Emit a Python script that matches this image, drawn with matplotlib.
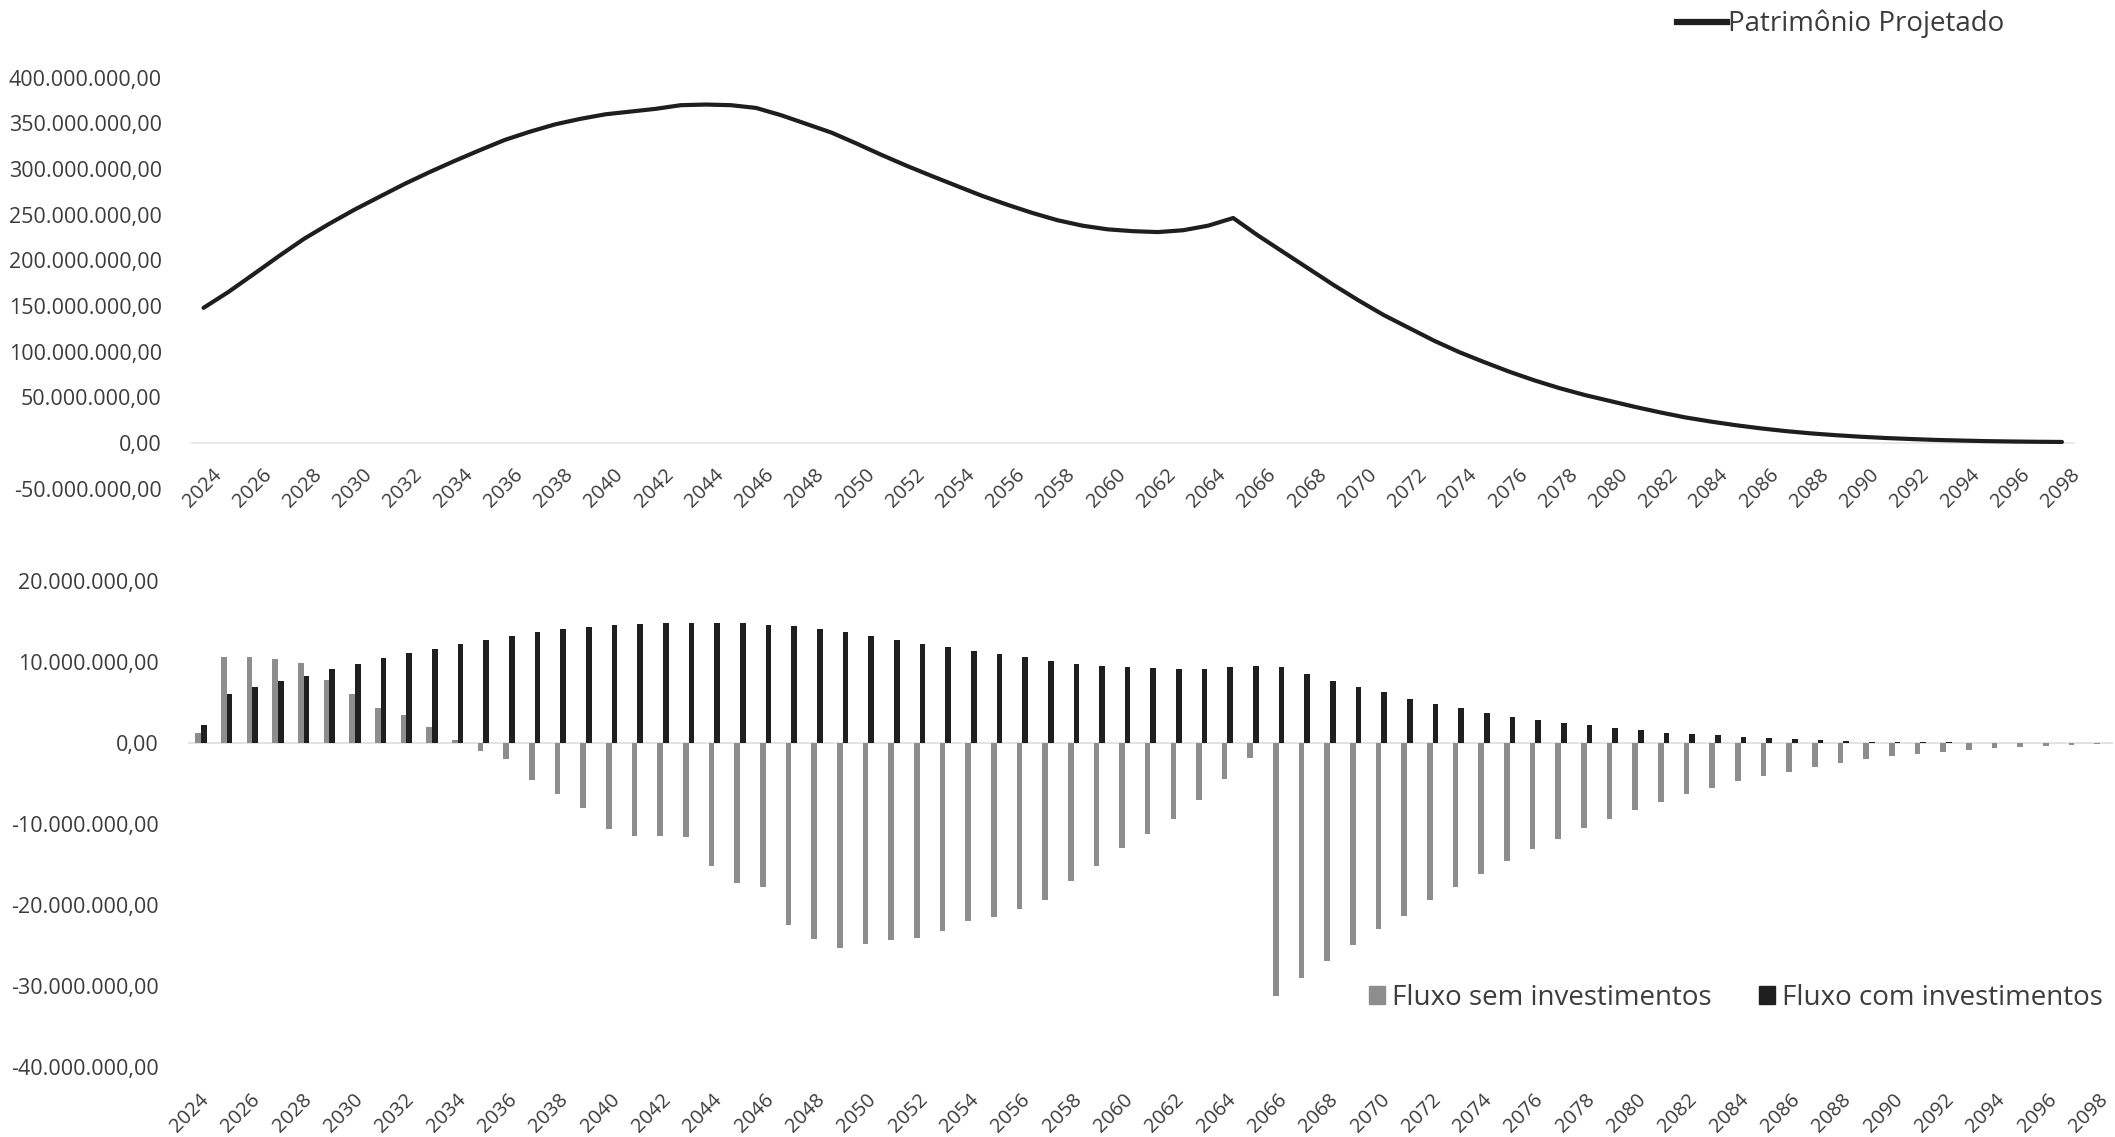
import matplotlib
matplotlib.use("Agg")
import matplotlib.pyplot as plt
import matplotlib.transforms as mtransforms
from matplotlib.lines import Line2D
from matplotlib.patches import Patch
from matplotlib.ticker import FuncFormatter
import numpy as np

plt.rcParams['font.family'] = ['Open Sans', 'DejaVu Sans']

# --- Dados (valores em milhões de R$) ---
anos = list(range(2024, 2099))

patrimonio = [
    148.0, 165.6, 185.0, 204.7, 223.6, 240.0, 255.4, 269.6, 283.7, 296.7,
    309.0, 320.7, 332.0, 341.0, 349.0, 355.0, 360.0, 363.0, 366.0, 370.0,
    370.7, 370.0, 367.0, 359.0, 349.5, 340.0, 328.0, 315.5, 303.6, 292.4,
    281.5, 270.7, 261.0, 252.0, 244.0, 238.0, 234.0, 232.0, 231.0, 233.0,
    238.0, 246.4, 227.0, 209.0, 191.0, 173.0, 156.0, 140.0, 126.0, 112.0,
    99.5, 88.5, 78.0, 68.5, 60.0, 52.5, 46.0, 39.5, 33.5, 28.0,
    23.5, 19.5, 16.0, 13.0, 10.5, 8.5, 6.8, 5.4, 4.3, 3.3,
    2.6, 2.0, 1.6, 1.3, 1.1,
]

fluxo_sem = [
    1.3, 10.7, 10.7, 10.4, 9.9, 7.8, 6.1, 4.4, 3.5, 2.0,
    0.4, -0.9, -1.9, -4.5, -6.3, -8.0, -10.6, -11.4, -11.5, -11.6,
    -15.2, -17.3, -17.7, -22.5, -24.2, -25.3, -24.8, -24.3, -24.0, -23.2,
    -21.9, -21.5, -20.5, -19.4, -17.0, -15.2, -13.0, -11.2, -9.4, -7.0,
    -4.4, -1.8, -31.2, -29.0, -26.9, -24.9, -22.9, -21.3, -19.4, -17.8,
    -16.1, -14.5, -13.1, -11.8, -10.5, -9.3, -8.3, -7.3, -6.3, -5.5,
    -4.7, -4.1, -3.5, -2.9, -2.4, -2.0, -1.6, -1.3, -1.1, -0.8,
    -0.6, -0.45, -0.3, -0.2, -0.15,
]

fluxo_com = [
    2.3, 6.1, 6.9, 7.7, 8.3, 9.2, 9.8, 10.5, 11.1, 11.7,
    12.3, 12.8, 13.3, 13.7, 14.1, 14.4, 14.6, 14.7, 14.8, 14.9,
    14.8, 14.8, 14.6, 14.5, 14.1, 13.7, 13.3, 12.8, 12.3, 11.9,
    11.4, 11.0, 10.6, 10.2, 9.8, 9.6, 9.4, 9.3, 9.2, 9.2,
    9.4, 9.6, 9.4, 8.5, 7.7, 7.0, 6.3, 5.5, 4.8, 4.3,
    3.8, 3.3, 2.9, 2.5, 2.2, 1.9, 1.6, 1.3, 1.1, 1.0,
    0.8, 0.65, 0.53, 0.4, 0.3, 0.2, 0.15, 0.12, 0.1, 0.08,
    0.06, 0.05, 0.04, 0.03, 0.02,
]

rotulos_anos = anos[::2]

COR_TEXTO = '#3c3c3c'
FS_Y = 15.5
FS_X = 14.5


def formato_br(v, pos):
    # 400000000 -> "400.000.000,00"
    s = f"{v:,.2f}"
    return s.replace(",", "X").replace(".", ",").replace("X", ".")


def estilo_eixo(ax, pad_x, desloc_px):
    for lado in ['top', 'right', 'left', 'bottom']:
        ax.spines[lado].set_visible(False)
    ax.yaxis.set_major_formatter(FuncFormatter(formato_br))
    ax.tick_params(axis='both', length=0, colors=COR_TEXTO)
    ax.tick_params(axis='y', labelsize=FS_Y, pad=21)
    ax.tick_params(axis='x', labelsize=FS_X, pad=pad_x)
    ax.set_xticks(rotulos_anos)
    ax.set_xticklabels([str(a) for a in rotulos_anos])
    desloc = mtransforms.ScaledTranslation(desloc_px / 100, 0, ax.figure.dpi_scale_trans)
    for lbl in ax.get_xticklabels():
        lbl.set_rotation(45)
        lbl.set_rotation_mode('anchor')
        lbl.set_ha('right')
        lbl.set_va('top')
        lbl.set_transform(lbl.get_transform() + desloc)


fig = plt.figure(figsize=(21.15, 11.37), dpi=100)

# --- Gráfico de cima: patrimônio projetado ---
ax1 = fig.add_axes([191 / 2115, 1 - 488.6 / 1137, (2074.5 - 191) / 2115, 410.8 / 1137])
x = np.array(anos)
ax1.plot(x, np.array(patrimonio) * 1e6, color='#1e1e1e', lw=3.0,
         solid_joinstyle='round', solid_capstyle='round', zorder=3)
ax1.axhline(0, color='#e4e4e4', lw=1.2, zorder=1)
ax1.set_xlim(2023.5, 2098.5)
ax1.set_ylim(-50e6, 400e6)
ax1.set_yticks(np.arange(-50e6, 400e6 + 1, 50e6))
# eixo das categorias cruza em zero (antes de formatar os rótulos)
ax1.spines['bottom'].set_position(('data', 0))
estilo_eixo(ax1, pad_x=16, desloc_px=8)

fig.legend(handles=[Line2D([0], [0], color='#1e1e1e', lw=4.5)],
           labels=['Patrimônio Projetado'],
           loc='center left', bbox_to_anchor=(1677 / 2115, 1 - 24 / 1137),
           frameon=False, fontsize=20, labelcolor=COR_TEXTO,
           handlelength=1.8, handletextpad=0.05, borderpad=0, borderaxespad=0)

# --- Gráfico de baixo: fluxos ---
ax2 = fig.add_axes([188.2 / 2115, 1 - 1067 / 1137, (2112.8 - 188.2) / 2115, 485.6 / 1137])
largura = 0.22
ax2.bar(x - largura / 2, np.array(fluxo_sem) * 1e6, largura, color='#8d8d8d',
        label='Fluxo sem investimentos', zorder=2)
ax2.bar(x + largura / 2, np.array(fluxo_com) * 1e6, largura, color='#1f1f1f',
        label='Fluxo com investimentos', zorder=2)
ax2.axhline(0, color='#dedede', lw=1.2, zorder=1)
ax2.set_xlim(2023.5, 2098.5)
ax2.set_ylim(-40e6, 20e6)
ax2.set_yticks(np.arange(-40e6, 20e6 + 1, 10e6))
estilo_eixo(ax2, pad_x=16.5, desloc_px=-2)

fig.legend(handles=[Patch(color='#8d8d8d'), Patch(color='#1f1f1f')],
           labels=['Fluxo sem investimentos', 'Fluxo com investimentos'],
           loc='center left', bbox_to_anchor=(1369 / 2115, 1 - 998 / 1137),
           ncol=2, frameon=False, fontsize=20, labelcolor=COR_TEXTO,
           handlelength=0.58, handleheight=0.62, handletextpad=0.25,
           columnspacing=1.7, borderpad=0, borderaxespad=0)

fig.savefig('out.png', dpi=100)
plt.close(fig)
